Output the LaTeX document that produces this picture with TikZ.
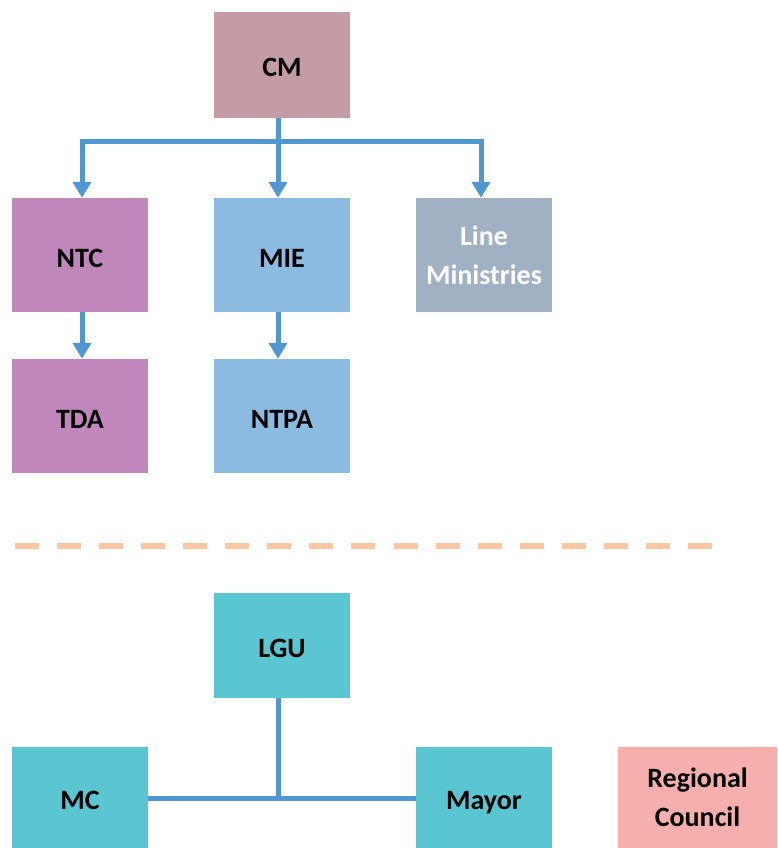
\documentclass[tikz,border=0pt]{standalone}
\usepackage{fontspec}
\setmainfont{Carlito}
\usetikzlibrary{arrows.meta}
\definecolor{cmcol}{HTML}{C59CA5}
\definecolor{ntccol}{HTML}{C088BA}
\definecolor{miecol}{HTML}{8BBBE0}
\definecolor{linecol}{HTML}{A0B1C4}
\definecolor{lgucol}{HTML}{5AC6D1}
\definecolor{regcol}{HTML}{F7AFAE}
\definecolor{conncol}{HTML}{4E97D2}
\definecolor{dashcol}{HTML}{FAC6A4}
\begin{document}
\begin{tikzpicture}[x=1pt,y=-1pt,
  box/.style={draw=none, minimum width=136pt, minimum height=114pt, inner sep=0pt,
    align=center, font=\fontsize{28}{39}\selectfont\bfseries},
  one/.style={text height=24pt, text depth=0pt},
  conn/.style={draw=conncol, line width=5pt},
  arr/.style={conn, -{Triangle[width=18pt,length=16pt]}},
  sepline/.style={draw=dashcol, line width=6pt, dash pattern=on 24pt off 18.06pt}]
\useasboundingbox (0,0) rectangle (777,848);
\node[box, one, fill=cmcol, minimum height=106pt] (CM) at (282,65) {CM};
\node[box, one, fill=ntccol] (NTC) at (80,255) {NTC};
\node[box, one, fill=miecol] (MIE) at (282,255) {MIE};
\node[box, fill=linecol, text=white] (LM) at (484,255) {Line\\Ministries};
\node[box, one, fill=ntccol] (TDA) at (80,416) {TDA};
\node[box, one, fill=miecol] (NTPA) at (282,416) {NTPA};
\node[box, one, fill=lgucol, minimum height=105pt] (LGU) at (282,645.5) {LGU};
\node[box, one, fill=lgucol, minimum height=101pt] (MC) at (80,797.5) {MC};
\node[box, one, fill=lgucol, minimum height=101pt] (Mayor) at (484,797.5) {Mayor};
\node[box, fill=regcol, minimum height=101pt, minimum width=159pt] (RC) at (697.5,797.5) {Regional\\Council};
\coordinate (b1) at (82,141);
\coordinate (b2) at (278,141);
\coordinate (b3) at (481,141);
\coordinate (b4) at (278,798);
\coordinate (d1) at (15,546);
\coordinate (d2) at (712,546);
\draw[arr] (CM.south -| b2) -- (MIE.north -| b2);
\draw[arr] (b2) -| (NTC.north -| b1);
\draw[arr] (b2) -| (LM.north -| b3);
\draw[arr] (NTC.south -| b1) -- (TDA.north -| b1);
\draw[arr] (MIE.south -| b2) -- (NTPA.north -| b2);
\draw[conn] (LGU.south -| b4) -- (b4);
\draw[conn] (MC.east |- b4) -- (Mayor.west |- b4);
\draw[sepline] (d1) -- (d2);
\end{tikzpicture}
\end{document}
